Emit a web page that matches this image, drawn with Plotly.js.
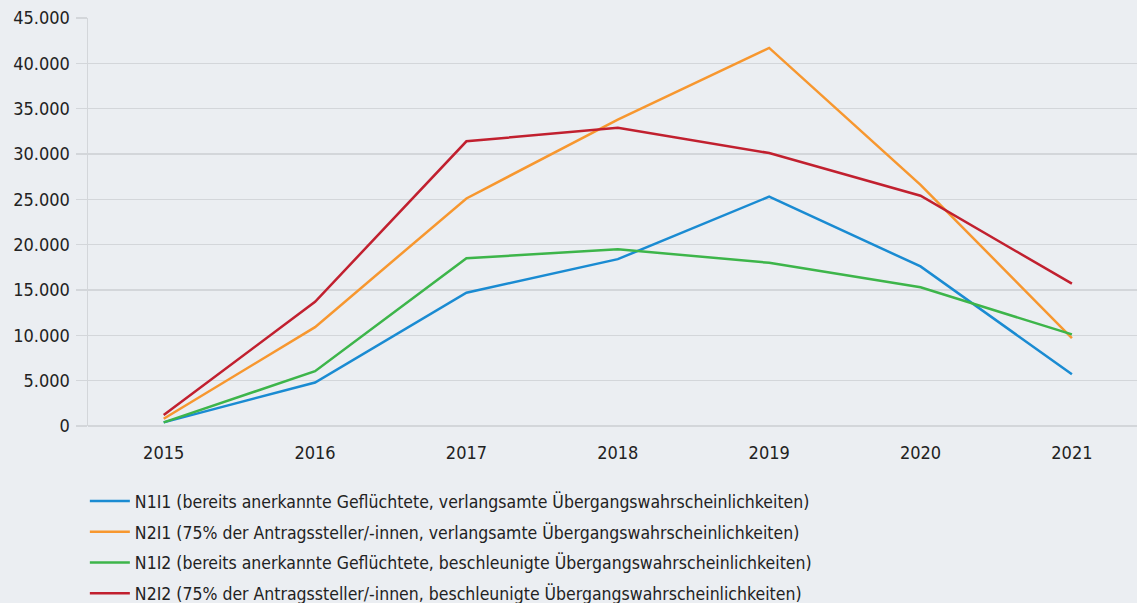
<!DOCTYPE html>
<html><head><meta charset="utf-8">
<script src="https://cdn.plot.ly/plotly-3.0.1.min.js"></script>
<style>html,body{margin:0;padding:0;background:#ebeef2;}</style>
</head><body>
<div id="chart" style="width:1137px;height:603px;"></div>
<script>
const years = ['2015','2016','2017','2018','2019','2020','2021'];
const n1i1 = [400, 4800, 14700, 18400, 25300, 17600, 5700];
const n2i1 = [800, 10900, 25100, 33800, 41700, 26600, 9700];
const n1i2 = [400, 6050, 18500, 19500, 18000, 15300, 10100];
const n2i2 = [1200, 13700, 31400, 32900, 30100, 25400, 15700];
const names = [
  'N1I1 (bereits anerkannte Geflüchtete, verlangsamte Übergangswahrscheinlichkeiten)',
  'N2I1 (75% der Antragssteller/-innen, verlangsamte Übergangswahrscheinlichkeiten)',
  'N1I2 (bereits anerkannte Geflüchtete, beschleunigte Übergangswahrscheinlichkeiten)',
  'N2I2 (75% der Antragssteller/-innen, beschleunigte Übergangswahrscheinlichkeiten)'
];
const colors = ['#1a8bd2', '#f7972f', '#3db54a', '#c1202f'];
const series = [n1i1, n2i1, n1i2, n2i2];
const traces = series.map((s, i) => ({
  x: years, y: s, name: names[i], type: 'scatter', mode: 'lines',
  legendgroup: 'g' + i,
  line: {color: colors[i], width: 2.5}
}));
const font = '"DejaVu Sans Condensed", "DejaVu Sans", sans-serif';
const layout = {
  width: 1137, height: 603,
  paper_bgcolor: '#ebeef2', plot_bgcolor: '#ebeef2',
  separators: ',.',
  margin: {l: 88, r: 0, t: 18, b: 177, autoexpand: false},
  font: {family: font, size: 17, color: '#222'},
  xaxis: {
    type: 'category', range: [-0.5, 6.43],
    showgrid: false, showline: false, zeroline: false,
    ticks: '', ticklabelstandoff: 14, tickfont: {size: 18, color: '#222'}
  },
  yaxis: {
    range: [0, 45000], dtick: 5000, tickformat: ',d',
    showgrid: true, gridcolor: '#d3d6da', gridwidth: 1.5,
    zeroline: true, zerolinecolor: '#d3d6da', zerolinewidth: 1.5,
    showline: true, linecolor: '#d3d6da', linewidth: 1.5,
    ticks: 'outside', ticklen: 11, tickcolor: '#d3d6da', tickwidth: 1.5,
    ticklabelstandoff: 2,
    tickfont: {size: 18, color: '#222'}
  },
  showlegend: true,
  legend: {
    orientation: 'v', x: -0.003, xanchor: 'left', y: -0.14, yanchor: 'top',
    bgcolor: 'rgba(0,0,0,0)', font: {size: 17.5, color: '#222'},
    tracegroupgap: 5, itemwidth: 40
  }
};
Plotly.newPlot('chart', traces, layout, {displayModeBar: false, staticPlot: true});
</script>
</body></html>
